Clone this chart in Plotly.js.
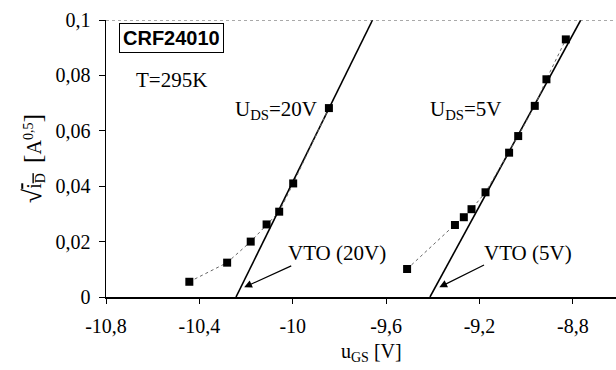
<!DOCTYPE html>
<html><head><meta charset="utf-8">
<script src="https://cdn.plot.ly/plotly-3.0.1.min.js"></script>
<style>html,body{margin:0;padding:0;background:#fff;}</style>
</head><body>
<div id="chart" style="width:616px;height:370px;"></div>
<script>
// Measured points, U_DS = 20 V
const x20 = [-10.443, -10.281, -10.180, -10.112, -10.058, -9.998, -9.845];
const y20 = [0.0055, 0.0124, 0.0200, 0.0262, 0.0308, 0.0410, 0.0682];
// Measured points, U_DS = 5 V
const x5 = [-9.510, -9.305, -9.267, -9.234, -9.174, -9.073, -9.034, -8.963, -8.913, -8.830];
const y5 = [0.0101, 0.0260, 0.0288, 0.0317, 0.0378, 0.0521, 0.0581, 0.0690, 0.0786, 0.0930];
// Linear fits (threshold extrapolation)
const fit20x = [-10.243, -9.658];
const fit20y = [0, 0.1];
const fit5x = [-9.412, -8.766];
const fit5y = [0, 0.1];
// Ticks
const xTicks = [-10.8, -10.4, -10.0, -9.6, -9.2, -8.8];
const xTickText = ['-10,8', '-10,4', '-10', '-9,6', '-9,2', '-8,8'];
const yTicks = [0, 0.02, 0.04, 0.06, 0.08, 0.1];
const yTickText = ['0', '0,02', '0,04', '0,06', '0,08', '0,1'];

const serif = "'Liberation Serif', 'DejaVu Serif', serif";
const markerStyle = {symbol: 'square', size: 8, color: '#000'};
const dotLine = {color: '#666', width: 1, dash: 'dot'};

const data = [
  {x: fit20x, y: fit20y, mode: 'lines', line: {color: '#000', width: 1.6}, hoverinfo: 'skip'},
  {x: fit5x, y: fit5y, mode: 'lines', line: {color: '#000', width: 1.6}, hoverinfo: 'skip'},
  {x: x20, y: y20, mode: 'lines+markers', line: dotLine, marker: markerStyle},
  {x: x5, y: y5, mode: 'lines+markers', line: dotLine, marker: markerStyle}
];

const layout = {
  width: 616, height: 370,
  margin: {l: 106, r: 0, t: 20, b: 73},
  paper_bgcolor: '#fff', plot_bgcolor: '#fff',
  showlegend: false,
  font: {family: serif, size: 20, color: '#000'},
  xaxis: {
    range: [-10.8, -8.615], showgrid: false, zeroline: false,
    showline: true, linecolor: '#000', linewidth: 1.5,
    ticks: 'outside', ticklen: 5, tickcolor: '#000', tickwidth: 1,
    tickvals: xTicks, ticktext: xTickText, ticklabelstandoff: 5,
    tickfont: {family: serif, size: 20}
  },
  yaxis: {
    range: [0, 0.1], showgrid: false, zeroline: false,
    showline: true, linecolor: '#000', linewidth: 1.5,
    ticks: 'outside', ticklen: 6, tickcolor: '#000', tickwidth: 1,
    tickvals: yTicks, ticktext: yTickText, ticklabelstandoff: 4,
    tickfont: {family: serif, size: 20},
    title: {text: '<span style="font-size:26px">√</span><span style="text-decoration:overline">i<sub>D</sub></span>  <span style="font-size:26px">[</span>A<sup>0,5</sup><span style="font-size:26px">]</span>', font: {family: serif, size: 20}, standoff: 8}
  },
  shapes: [
    {type: 'line', xref: 'paper', yref: 'y', x0: 0, x1: 1, y0: 0.1, y1: 0.1,
     line: {color: '#555', width: 1, dash: 'dot'}}
  ],
  annotations: [
    {xref: 'paper', yref: 'paper', x: 0.52, y: -0.2, yanchor: 'middle', text: 'u<sub>GS</sub> [V]', showarrow: false,
     font: {family: serif, size: 20}},
    {xref: 'x', yref: 'y', x: -10.52, y: 0.0935, text: '<b>CRF24010</b>', showarrow: false,
     font: {family: "'Liberation Sans', Arial, sans-serif", size: 20, color: '#000'},
     bordercolor: '#000', borderwidth: 1, borderpad: 3, bgcolor: '#fff'},
    {xref: 'x', yref: 'y', x: -10.52, y: 0.0785, text: 'T=295K', showarrow: false,
     font: {family: serif, size: 21}},
    {xref: 'x', yref: 'y', x: -10.07, y: 0.0675, text: 'U<sub>DS</sub>=20V', showarrow: false,
     font: {family: serif, size: 21}},
    {xref: 'x', yref: 'y', x: -9.26, y: 0.0675, text: 'U<sub>DS</sub>=5V', showarrow: false,
     font: {family: serif, size: 21}},
    {xref: 'x', yref: 'y', x: -9.81, y: 0.0158, text: 'VTO (20V)', showarrow: false,
     font: {family: serif, size: 21}},
    {xref: 'x', yref: 'y', x: -8.99, y: 0.0158, text: 'VTO (5V)', showarrow: false,
     font: {family: serif, size: 21}},
    {xref: 'x', yref: 'y', x: -10.208, y: 0.0035, ax: -10.0, ay: 0.0115, axref: 'x', ayref: 'y',
     text: '', showarrow: true, arrowhead: 2, arrowsize: 1.3, arrowwidth: 1.2, arrowcolor: '#000'},
    {xref: 'x', yref: 'y', x: -9.372, y: 0.0035, ax: -9.174, ay: 0.0118, axref: 'x', ayref: 'y',
     text: '', showarrow: true, arrowhead: 2, arrowsize: 1.3, arrowwidth: 1.2, arrowcolor: '#000'}
  ]
};

Plotly.newPlot('chart', data, layout, {staticPlot: true, displayModeBar: false});
</script>
</body></html>
